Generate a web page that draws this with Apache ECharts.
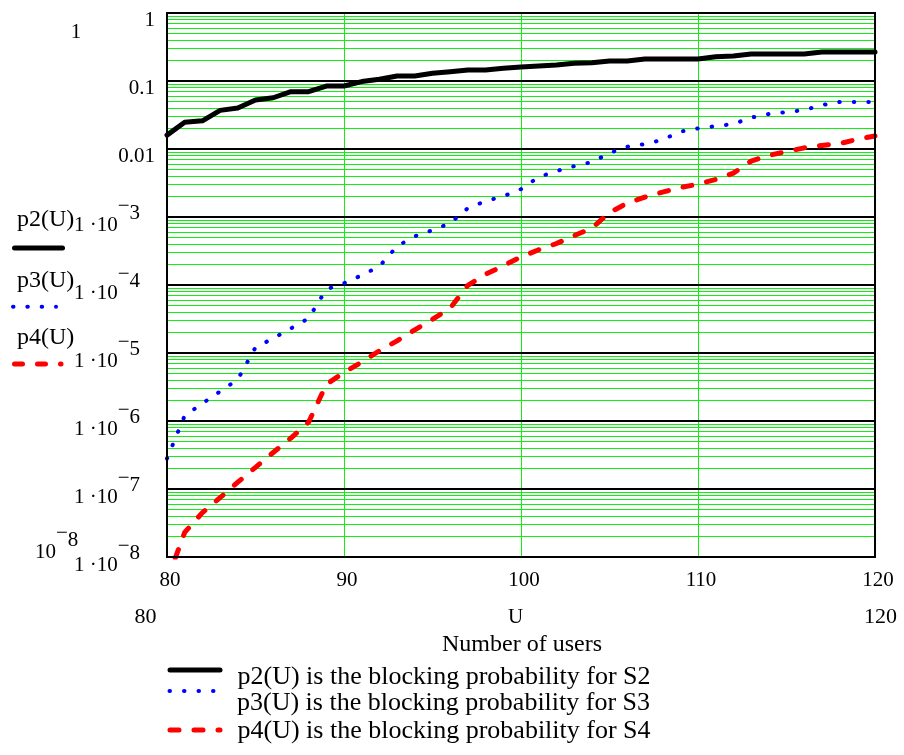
<!DOCTYPE html>
<html><head><meta charset="utf-8">
<script src="https://cdn.jsdelivr.net/npm/echarts@6/dist/echarts.min.js"></script>
<style>html,body{margin:0;padding:0;background:#fff}#c{width:904px;height:755px}</style>
</head><body><div id="c"></div>
<script>
// ---- data ----
const users = [80,81,82,83,84,85,86,87,88,89,90,91,92,93,94,95,96,97,98,99,100,
               101,102,103,104,105,106,107,108,109,110,111,112,113,114,115,116,117,118,119,120];
const p2 = [0.016,0.0247,0.026,0.037,0.040,0.0525,0.0567,0.0697,0.0697,0.0844,0.0844,
            0.098,0.106,0.1186,0.1186,0.130,0.137,0.145,0.145,0.154,0.160,
            0.166,0.172,0.182,0.186,0.197,0.197,0.211,0.211,0.211,0.211,
            0.228,0.233,0.25,0.25,0.25,0.25,0.267,0.267,0.267,0.267];
const p3 = [2.8e-7,1.2e-6,1.81e-6,2.72e-6,4.09e-6,1.21e-5,1.64e-5,2.30e-5,3.23e-5,8.64e-5,1.06e-4,
            1.39e-4,1.88e-4,3.71e-4,5.21e-4,6.39e-4,8.11e-4,1.35e-3,1.71e-3,2.02e-3,2.57e-3,
            3.86e-3,4.73e-3,5.60e-3,6.41e-3,8.70e-3,1.08e-2,1.18e-2,1.37e-2,1.80e-2,2.01e-2,
            2.17e-2,2.33e-2,2.90e-2,3.27e-2,3.49e-2,3.74e-2,4.43e-2,4.91e-2,4.91e-2,4.91e-2];
const p4 = [4.5e-9,2.30e-8,4.49e-8,7.47e-8,1.26e-7,2.08e-7,3.44e-7,5.62e-7,9.6e-7,3.45e-6,5.18e-6,
            7.34e-6,1.08e-5,1.51e-5,2.19e-5,3.13e-5,4.58e-5,9.9e-5,1.44e-4,1.92e-4,2.58e-4,
            3.30e-4,4.07e-4,5.31e-4,6.84e-4,1.16e-3,1.60e-3,1.96e-3,2.32e-3,2.71e-3,3.04e-3,
            3.56e-3,4.42e-3,6.64e-3,8.05e-3,9.19e-3,1.04e-2,1.13e-2,1.20e-2,1.39e-2,1.55e-2];
const seriesNames = ['p2(U) is the blocking probability for S2',
                     'p3(U) is the blocking probability for S3',
                     'p4(U) is the blocking probability for S4'];
const traceNames = ['p2(U)','p3(U)','p4(U)'];
const xTicks = [80,90,100,110,120];
const yTickValues = [1e-8,1e-7,1e-6,1e-5,1e-4,1e-3,0.01,0.1,1];
const yTickLabels = ['1 ·10^−8','1 ·10^−7','1 ·10^−6','1 ·10^−5','1 ·10^−4','1 ·10^−3','0.01','0.1','1'];
const minorMultipliers = [2,3,4,5,6,7,8,9];
const decades = [1e-8,1e-7,1e-6,1e-5,1e-4,1e-3,0.01,0.1];
const xLimits = ['80','120'];
const xVarName = 'U';
const xTitle = 'Number of users';
const yUpperLimit = '1';
const yLowerLimit = '10^−8';

// ---- build ----
const FONT = 'Liberation Serif';
const minorValues = [];
decades.forEach(d => minorMultipliers.forEach(m => minorValues.push(+(m * d).toPrecision(3))));
const pairs = arr => users.map((u, i) => [u, arr[i]]);

const tok = (pad, va) => ({fontFamily: FONT, fontSize: 21, lineHeight: 22, padding: pad, verticalAlign: va, color: '#000'});
const rich = {
  d: tok([8,0,0,0], 'top'),
  b: tok([8.5,0,0,0], 'top'),
  m: tok([0,0,11.5,0], 'bottom'),
  s: tok([0,15,4.5,0], 'bottom'),
  s0: tok([0,0,4.5,0], 'bottom')
};
function expRich(str, last) {
  if (str.indexOf('^') < 0) return '{d|' + str + '}';
  const parts = str.split('^');
  return '{b|' + parts[0] + '}{m|' + parts[1][0] + '}{' + last + '|' + parts[1].slice(1) + '}';
}
function fmtY(v) {
  const i = yTickValues.findIndex(t => Math.abs(Math.log10(t) - Math.log10(v)) < 1e-6);
  if (i < 0) return '';
  return expRich(yTickLabels[i], 's');
}

// legend rows: key centre y and text centre y
const LKEY = [670, 691, 730];
const LTXT = [676, 702, 730];
const legends = seriesNames.map((n, i) => {
  const P = Math.max(0, LTXT[i] - LKEY[i] + 2.4);
  return {
    orient: 'vertical', left: 167.5, top: LKEY[i] - 14, padding: 0,
    itemWidth: 50, itemHeight: 14, selectedMode: false,
    formatter: name => '{t|' + name + '}',
    textStyle: {rich: {t: {fontFamily: FONT, fontSize: 26, lineHeight: 28, color: '#000',
                           verticalAlign: 'top', padding: [P, 0, 0, 12.5]}}},
    lineStyle: {width: 'inherit'},
    itemStyle: {opacity: 0},
    data: [n]
  };
});

const chart = echarts.init(document.getElementById('c'), null, {renderer: 'canvas'});
const GREEN = '#11ee11';
const txt = (t, x, y, size, align) => ({type: 'text', x: x, y: y,
  style: {text: t, align: align || 'center', verticalAlign: 'middle', fontFamily: FONT, fontSize: size, fill: '#000'}});

chart.setOption({
  animation: false,
  backgroundColor: '#fff',
  textStyle: {fontFamily: FONT},
  grid: {left: 167, top: 13, width: 708, height: 544, show: true, borderColor: '#000',
         borderWidth: 2, backgroundColor: 'transparent', z: 10, containLabel: false},
  xAxis: {
    type: 'value', min: 80, max: 120, interval: 10,
    axisLine: {show: false}, axisTick: {show: false},
    splitLine: {show: true, lineStyle: {color: GREEN, width: 1}},
    axisLabel: {fontFamily: FONT, fontSize: 21, lineHeight: 22, color: '#000', margin: 12, padding: [0,0,0,6],
                formatter: v => xTicks.indexOf(v) >= 0 ? String(v) : ''},
    name: xTitle, nameLocation: 'middle', nameGap: 74.5,
    nameTextStyle: {fontFamily: FONT, fontSize: 24, lineHeight: 26, color: '#000', padding: [0,0,0,2]}
  },
  yAxis: [
    {
      type: 'log', logBase: 10, min: 1e-8, max: 1, z: 1,
      axisLine: {show: false},
      axisTick: {show: false, customValues: yTickValues},
      splitLine: {show: true, lineStyle: {color: '#000', width: 2}},
      axisLabel: {customValues: yTickValues, margin: 12, formatter: fmtY, rich: rich,
                  verticalAlign: 'middle', align: 'right'}
    },
    {
      type: 'log', logBase: 10, min: 1e-8, max: 1, z: 0, position: 'left',
      axisLine: {show: false},
      axisTick: {show: false, customValues: minorValues},
      axisLabel: {show: false},
      splitLine: {show: true, lineStyle: {color: GREEN, width: 1}}
    }
  ],
  legend: legends,
  series: [
    {name: seriesNames[0], type: 'line', data: pairs(p2), symbol: 'none', z: 3, yAxisIndex: 0,
     lineStyle: {color: '#000', width: 5, cap: 'round', join: 'round'}, itemStyle: {color: '#000'}},
    {name: seriesNames[1], type: 'line', data: pairs(p3), symbol: 'none', z: 3, yAxisIndex: 0,
     lineStyle: {color: '#0000ff', width: 4, type: [0.5, 14], cap: 'round', join: 'round'}, itemStyle: {color: '#0000ff'}},
    {name: seriesNames[2], type: 'line', data: pairs(p4), symbol: 'none', z: 3, yAxisIndex: 0,
     lineStyle: {color: '#ff0000', width: 5, type: [9, 15], cap: 'round', join: 'round'}, itemStyle: {color: '#ff0000'}}
  ],
  graphic: [
    txt(yUpperLimit, 76, 32.5, 21),
    {type: 'text', x: 35, y: 544, style: {text: expRich(yLowerLimit, 's0'), rich: rich, align: 'left', verticalAlign: 'middle', fontFamily: FONT, fontSize: 21, fill: '#000'}},
    txt(xLimits[0], 145.5, 617.5, 22),
    txt(xVarName, 515.5, 617.5, 21),
    txt(xLimits[1], 880.5, 617.5, 22),
    txt(traceNames[0], 17, 220, 24, 'left'),
    {type: 'line', shape: {x1: 14.5, y1: 248, x2: 62.5, y2: 248}, style: {stroke: '#000', lineWidth: 5, lineCap: 'round'}},
    txt(traceNames[1], 17, 281, 24, 'left'),
    {type: 'line', shape: {x1: 13, y1: 306.7, x2: 56, y2: 306.7}, style: {stroke: '#0000ff', lineWidth: 4, lineCap: 'round', lineDash: [0.5, 13.83]}},
    txt(traceNames[2], 17, 337.5, 24, 'left'),
    {type: 'line', shape: {x1: 14.5, y1: 364, x2: 61, y2: 364}, style: {stroke: '#ff0000', lineWidth: 5, lineCap: 'round', lineDash: [8, 15]}}
  ]
});
</script></body></html>
